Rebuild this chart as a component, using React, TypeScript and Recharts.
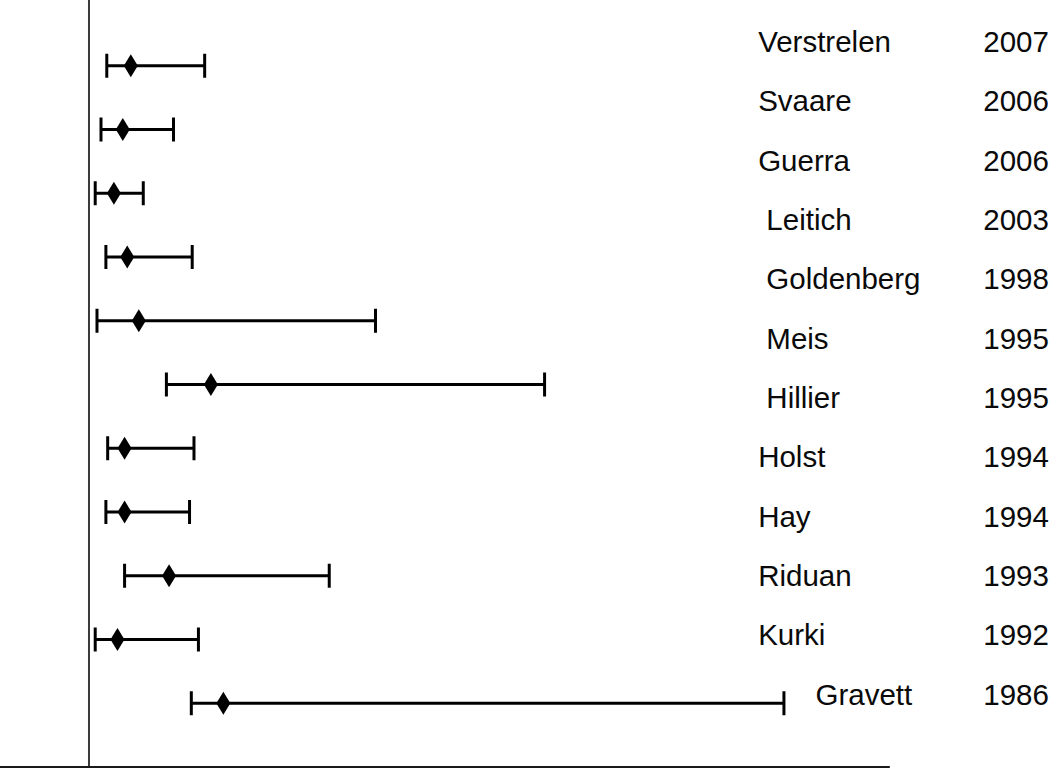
import React from 'react'
import {
  ScatterChart,
  Scatter,
  XAxis,
  YAxis,
  ErrorBar,
  ReferenceLine,
} from 'recharts'

// forest plot rows, top to bottom (ratio scale, 1 = no effect)
const estimate = [1.47, 1.38, 1.28, 1.43, 1.56, 2.37, 1.4, 1.4, 1.9, 1.32, 2.51]
const lower = [1.2, 1.135, 1.07, 1.19, 1.09, 1.87, 1.21, 1.19, 1.4, 1.07, 2.15]
const upper = [2.3, 1.95, 1.61, 2.16, 4.22, 6.12, 2.18, 2.13, 3.7, 2.23, 8.81]

// study column (leading spaces kept as in the original table)
const studies = [
  'Verstrelen',
  'Svaare',
  'Guerra',
  ' Leitich',
  ' Goldenberg',
  ' Meis',
  ' Hillier',
  'Holst',
  'Hay',
  'Riduan',
  'Kurki',
  '       Gravett',
]
const years = ['2007', '2006', '2006', '2003', '1998', '1995', '1995', '1994', '1994', '1993', '1992', '1986']

const NAME_COL = 8.52
const YEAR_COL = 11.05

const rows = estimate.map((est, i) => ({
  x: est,
  y: i + 1,
  err: [est - lower[i], upper[i] - est],
}))

const nameRows = studies.map((s, i) => ({ x: NAME_COL, y: i + 1, label: s }))
const yearRows = years.map((s, i) => ({ x: YEAR_COL, y: i + 1, label: s }))

const font = '"Liberation Sans", Arial, sans-serif'

const Diamond = (props: any) => {
  const { cx, cy } = props
  return (
    <polygon
      points={`${cx},${cy - 11.5} ${cx + 7},${cy} ${cx},${cy + 11.5} ${cx - 7},${cy}`}
      fill="#000"
    />
  )
}

const LabelText = (props: any) => {
  const { cx, cy, payload } = props
  return (
    <text
      x={cx}
      y={cy}
      fontFamily={font}
      fontSize={29.5}
      fill="#0a0a0a"
      xmlSpace="preserve"
      style={{ whiteSpace: 'pre' }}
    >
      {payload.label}
    </text>
  )
}

export default function App() {
  return (
    <div style={{ position: 'absolute', left: 0, top: 0, background: '#fff' }}>
      <ScatterChart width={1050} height={769} margin={{ top: 2, right: 0, bottom: 2, left: 0 }}>
        <XAxis type="number" dataKey="x" domain={[0, 11.8]} hide />
        <YAxis yAxisId="rows" type="number" dataKey="y" domain={[0, 12]} reversed hide />
        <YAxis yAxisId="labels" type="number" dataKey="y" domain={[0.16, 13.05]} reversed hide />
        <ReferenceLine
          yAxisId="rows"
          segment={[
            { x: 1, y: -0.04 },
            { x: 1, y: 12 },
          ]}
          stroke="#3a3a3a"
          strokeWidth={2}
          ifOverflow="visible"
        />
        <ReferenceLine
          yAxisId="rows"
          segment={[
            { x: 0, y: 12 },
            { x: 10, y: 12 },
          ]}
          stroke="#1a1a1a"
          strokeWidth={2}
          ifOverflow="visible"
        />
        <Scatter yAxisId="rows" data={rows} shape={<Diamond />} isAnimationActive={false}>
          <ErrorBar dataKey="err" direction="x" width={12} stroke="#000" strokeWidth={3} />
        </Scatter>
        <Scatter yAxisId="labels" data={nameRows} shape={<LabelText />} isAnimationActive={false} />
        <Scatter yAxisId="labels" data={yearRows} shape={<LabelText />} isAnimationActive={false} />
      </ScatterChart>
    </div>
  )
}
